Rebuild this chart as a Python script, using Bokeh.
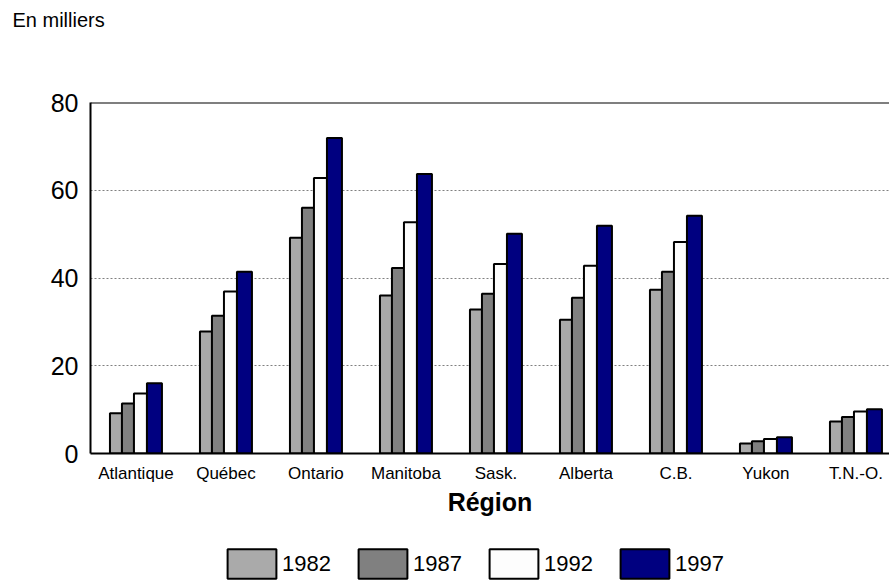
import numpy as np
from bokeh.plotting import figure
from bokeh.layouts import column
from bokeh.models import Range1d, FixedTicker, Legend, LegendItem, Span
from bokeh.embed import file_html
from bokeh.resources import INLINE

# ---- data ----
regions = ["Atlantique", "Québec", "Ontario", "Manitoba", "Sask.", "Alberta", "C.B.", "Yukon", "T.N.-O."]
years = ["1982", "1987", "1992", "1997"]
v1982 = [9.2, 27.8, 49.2, 36.0, 32.8, 30.5, 37.3, 2.3, 7.3]
v1987 = [11.4, 31.4, 56.0, 42.3, 36.4, 35.5, 41.4, 2.8, 8.3]
v1992 = [13.7, 36.9, 62.8, 52.7, 43.2, 42.8, 48.2, 3.3, 9.6]
v1997 = [16.0, 41.4, 71.9, 63.7, 50.1, 51.9, 54.2, 3.7, 10.1]
y_ticks = [0, 20, 40, 60, 80]
series = [v1982, v1987, v1992, v1997]

# ---- styles ----
colors = ["#AAAAAA", "#808080", "#FDFDFD", "#000080"]
FONT = "Liberation Sans"
PX = 90.0                       # pixels per category
offsets_px = [-20, -8, 4.5, 18.5]
widths_px = [12, 12, 13, 15]

W = 889
H_TOP, H_MAIN, H_LEG = 40, 490, 52
left = 90
frame_w = W - left
centers = np.arange(len(regions)) + 0.5


def bare(height, x_range, y_range):
    f = figure(width=W, height=height, x_range=x_range, y_range=y_range,
               output_backend="svg", toolbar_location=None,
               x_axis_location=None, y_axis_location=None,
               min_border=0, min_border_left=0, min_border_right=0,
               min_border_top=0, min_border_bottom=0)
    f.grid.visible = False
    f.outline_line_color = None
    f.background_fill_color = "white"
    f.border_fill_color = "white"
    return f


# ---- top strip: unit note (title, left of the frame) ----
ptop = bare(H_TOP, Range1d(0, 1), Range1d(0, 1))
ptop.title.text = "En milliers"
ptop.title.align = "left"
ptop.title.offset = -78
ptop.title.standoff = 12
ptop.title.vertical_align = "bottom"
ptop.title.text_font = FONT
ptop.title.text_font_size = "20px"
ptop.title.text_font_style = "normal"
ptop.title.text_color = "black"

# ---- main chart ----
p = figure(width=W, height=H_MAIN, x_range=Range1d(-0.005, frame_w / PX - 0.005), y_range=Range1d(0, 80),
           output_backend="svg", toolbar_location=None,
           min_border_left=left, min_border_right=0, min_border_top=62, min_border_bottom=77)
p.outline_line_color = None
p.background_fill_color = "white"
p.border_fill_color = "white"

for vals, col, off, w in zip(series, colors, offsets_px, widths_px):
    p.vbar(x=centers + off / PX, top=vals, bottom=0, width=w / PX,
           fill_color=col, line_color="black", line_width=2)

p.xaxis.ticker = FixedTicker(ticks=list(centers))
p.xaxis.major_label_overrides = {float(c): name for c, name in zip(centers, regions)}
p.xaxis.major_label_text_font = FONT
p.xaxis.major_label_text_font_size = "17px"
p.xaxis.major_label_text_color = "black"
p.xaxis.major_label_standoff = 10
p.xaxis.major_tick_out = 0
p.xaxis.major_tick_in = 0
p.xaxis.minor_tick_out = 0
p.xaxis.minor_tick_in = 0
p.xaxis.axis_line_width = 2
p.xaxis.axis_line_color = "black"
p.xaxis.axis_label = "Région"
p.xaxis.axis_label_text_font = FONT
p.xaxis.axis_label_text_font_size = "25px"
p.xaxis.axis_label_text_font_style = "bold"
p.xaxis.axis_label_text_color = "black"
p.xaxis.axis_label_standoff = 2

p.yaxis.ticker = FixedTicker(ticks=y_ticks)
p.yaxis.major_label_text_font = FONT
p.yaxis.major_label_text_font_size = "25px"
p.yaxis.major_label_text_color = "black"
p.yaxis.major_label_standoff = 12
p.yaxis.major_tick_out = 0
p.yaxis.major_tick_in = 0
p.yaxis.minor_tick_out = 0
p.yaxis.minor_tick_in = 0
p.yaxis.axis_line_width = 2
p.yaxis.axis_line_color = "black"

p.xgrid.visible = False
p.ygrid.ticker = FixedTicker(ticks=y_ticks[1:-1])
p.ygrid.grid_line_color = "#808080"
p.ygrid.grid_line_dash = "2 2"
p.ygrid.grid_line_width = 1

p.add_layout(Span(location=80, dimension="width", line_color="black", line_width=2))

# ---- legend strip: same series, placed far outside both visible ranges; only the legend shows ----
pleg = bare(H_LEG, Range1d(-1000, -999), Range1d(1000, 1001))
leg_renderers = []
for vals, col, off, w in zip(series, colors, offsets_px, widths_px):
    leg_renderers.append(pleg.vbar(x=centers + off / PX, top=vals, bottom=0, width=w / PX,
                                   fill_color=col, line_color="black", line_width=2))
legend = Legend(items=[LegendItem(label=y, renderers=[r]) for y, r in zip(years, leg_renderers)],
                orientation="horizontal", location=(131, 0),
                glyph_width=61, glyph_height=37, label_standoff=0, label_width=50,
                spacing=20, padding=0, margin=0, border_line_color=None,
                background_fill_alpha=0, label_text_font=FONT, label_text_font_size="22px",
                label_text_color="black")
pleg.add_layout(legend)

layout = column(ptop, p, pleg, spacing=0)
open("out.html", "w").write(file_html(layout, INLINE))
